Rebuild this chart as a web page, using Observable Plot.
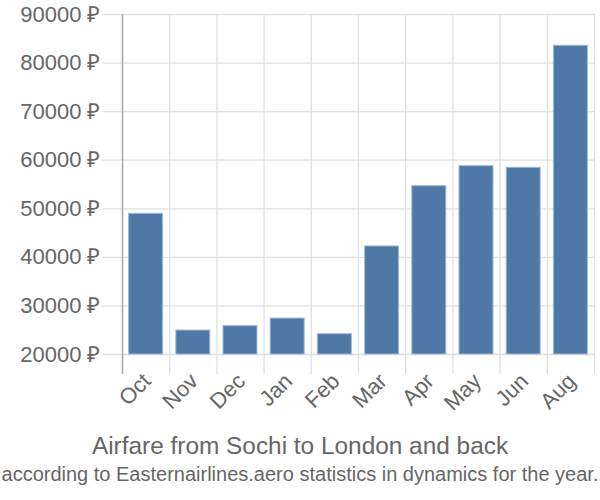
<!DOCTYPE html>
<html>
<head>
<meta charset="utf-8">
<script src="https://cdn.jsdelivr.net/npm/d3@7"></script>
<script src="https://cdn.jsdelivr.net/npm/@observablehq/plot@0.6"></script>
<style>
  html, body { margin: 0; padding: 0; background: #fff; }
  body { width: 600px; font-family: "Liberation Sans", Arial, sans-serif; }
  #title { text-align: center; color: #666; font-size: 24.4px; line-height: 28px; margin-top: 12px; white-space: nowrap; }
  #subtitle { text-align: center; color: #666; font-size: 20px; line-height: 28px; white-space: nowrap; margin-left: -10px; margin-right: -10px; }
</style>
</head>
<body>
<div id="chart"></div>
<div id="title">Airfare from Sochi to London and back</div>
<div id="subtitle">according to Easternairlines.aero statistics in dynamics for the year.</div>
<script>
const months = ["Oct", "Nov", "Dec", "Jan", "Feb", "Mar", "Apr", "May", "Jun", "Aug"];
const prices = [48970, 24940, 25830, 27400, 24180, 42240, 54650, 58770, 58440, 83560];
const yTicks = [20000, 30000, 40000, 50000, 60000, 70000, 80000, 90000];

const data = months.map((m, i) => ({month: m, price: prices[i]}));

const width = 600, height = 420;
const marginLeft = 122, marginRight = 6;
const step = (width - marginLeft - marginRight) / 10;

const chart = Plot.plot({
  width, height,
  marginLeft, marginRight, marginTop: 14, marginBottom: 66,
  style: {fontFamily: "Liberation Sans, Arial, sans-serif", fontSize: "20px", color: "#666", background: "#fff"},
  x: {domain: months, paddingInner: 0.28, paddingOuter: 0.14, round: false, label: null},
  y: {domain: [20000, 90000], label: null},
  marks: [
    Plot.ruleY(yTicks, {stroke: "#e0e0e0", strokeWidth: 1.3, insetLeft: -20}),
    Plot.ruleX(months, {x: d => d, dx: -step / 2, stroke: "#e0e0e0", strokeWidth: 1.3, insetBottom: -20}),
    Plot.ruleX([months[months.length - 1]], {x: d => d, dx: step / 2, stroke: "#e0e0e0", strokeWidth: 1.3, insetBottom: -20}),
    Plot.barY(data, {x: "month", y1: 20000, y2: "price", fill: "#4e79a7", stroke: "#9fb9d6", strokeWidth: 1}),
    Plot.ruleX([months[0]], {x: d => d, dx: -step / 2, stroke: "#aaaaaa", strokeWidth: 1.5, insetBottom: -20}),
    Plot.axisY(yTicks, {tickSize: 0, tickPadding: 22, tickFormat: d => d + " ₽", fontSize: 22, fill: "#666"}),
    Plot.axisX({tickSize: 0, tickRotate: -45, tickPadding: 23, dx: 1, fontSize: 22, fill: "#666"})
  ]
});
document.getElementById("chart").appendChild(chart);
</script>
</body>
</html>
